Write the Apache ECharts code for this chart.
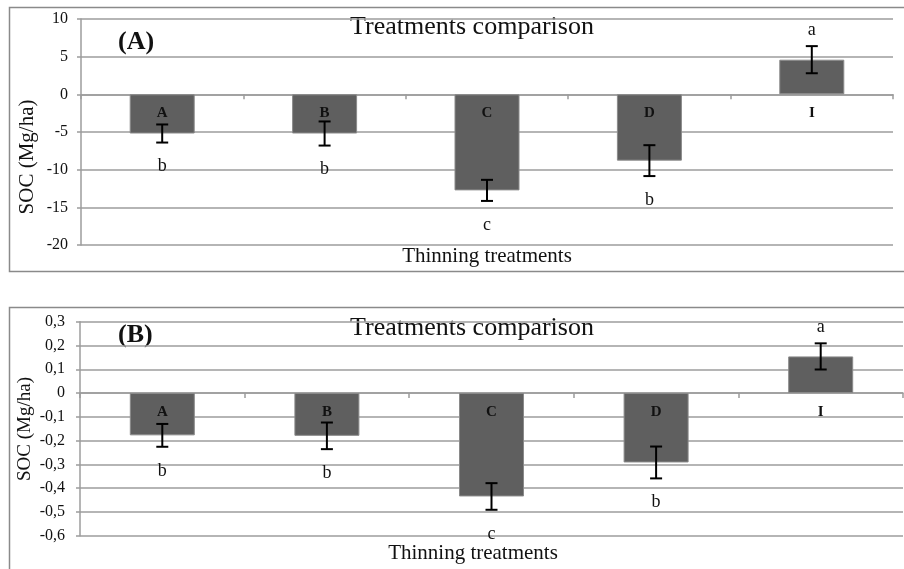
<!DOCTYPE html>
<html>
<head>
<meta charset="utf-8">
<script src="https://cdn.jsdelivr.net/npm/echarts@6/dist/echarts.min.js"></script>
<style>
  html, body { margin: 0; padding: 0; background: #ffffff; }
  #chart { width: 904px; height: 569px; }
</style>
</head>
<body>
<div id="chart"></div>
<script>
// Thinning treatments
const categories = ['A', 'B', 'C', 'D', 'I'];

// Panel (A): SOC change, Mg/ha
const socStock = [-5.2, -5.2, -12.75, -8.8, 4.6];
const socStockErr = [1.2, 1.6, 1.4, 2.05, 1.8];
const socStockGroups = ['b', 'b', 'c', 'b', 'a'];

// Panel (B): SOC change rate, Mg/ha
const socRate = [-0.178, -0.18, -0.435, -0.292, 0.154];
const socRateErr = [0.048, 0.056, 0.056, 0.067, 0.055];
const socRateGroups = ['b', 'b', 'c', 'b', 'a'];

const SERIF = '"Liberation Serif", "Times New Roman", serif';
const GRID_COLOR = '#9c9c9c';
const groups = [socStockGroups, socRateGroups];

function commaLabel(v) {
  if (Math.abs(v) < 1e-9) return '0';
  return v.toFixed(1).replace('.', ',');
}

function buildErrorData(vals, errs) {
  return vals.map((v, i) => [i, v, errs[i]]);
}

// Error bar with caps, the significance letter beyond the bar tip,
// and the treatment name just under the zero line
function renderErrorBar(params, api) {
  const idx = api.value(0);
  const v = api.value(1);
  const e = api.value(2);
  const letter = groups[params.seriesIndex === 1 ? 0 : 1][params.dataIndex];
  const hi = api.coord([idx, v + e]);
  const lo = api.coord([idx, v - e]);
  const zero = api.coord([idx, 0]);
  const cap = 6;
  const stroke = { stroke: '#000', lineWidth: 2 };
  const tip = v >= 0 ? hi : lo;
  const textY = v >= 0 ? tip[1] - 16 : tip[1] + 24;
  return {
    type: 'group',
    children: [
      { type: 'line', shape: { x1: hi[0], y1: hi[1], x2: lo[0], y2: lo[1] }, style: stroke },
      { type: 'line', shape: { x1: hi[0] - cap, y1: hi[1], x2: hi[0] + cap, y2: hi[1] }, style: stroke },
      { type: 'line', shape: { x1: lo[0] - cap, y1: lo[1], x2: lo[0] + cap, y2: lo[1] }, style: stroke },
      {
        type: 'text',
        style: {
          x: hi[0], y: textY, text: letter,
          font: '18px ' + SERIF, fill: '#111',
          textAlign: 'center', textVerticalAlign: 'middle'
        }
      },
      {
        type: 'text',
        style: {
          x: zero[0], y: zero[1] + 19, text: categories[params.dataIndex],
          font: 'bold 15px ' + SERIF, fill: '#111',
          textAlign: 'center', textVerticalAlign: 'middle'
        }
      }
    ]
  };
}

function xAxisFor(gridIndex) {
  return {
    type: 'category',
    gridIndex: gridIndex,
    data: categories,
    axisLine: { onZero: true, lineStyle: { color: GRID_COLOR, width: 1.5 } },
    axisTick: { show: true, length: 5, lineStyle: { color: GRID_COLOR, width: 1.5 } },
    axisLabel: { show: false },
    splitLine: { show: false }
  };
}

function yAxisFor(gridIndex, min, max, interval, fmt, margin) {
  return {
    type: 'value',
    gridIndex: gridIndex,
    min: min, max: max, interval: interval,
    axisLine: { show: true, lineStyle: { color: GRID_COLOR, width: 1.5 } },
    axisTick: { show: true, length: 4, lineStyle: { color: GRID_COLOR, width: 1.5 } },
    axisLabel: { formatter: fmt, fontFamily: SERIF, fontSize: 16, color: '#111', margin: margin },
    splitLine: { show: true, lineStyle: { color: GRID_COLOR, width: 1.5 } }
  };
}

const barStyle = { color: '#5f5f5f', borderColor: '#8a8a8a', borderWidth: 1 };

const option = {
  animation: false,
  backgroundColor: '#ffffff',
  grid: [
    { left: 81, right: 11, top: 19, height: 226 },
    { left: 80, right: 1, top: 321.7, height: 214 }
  ],
  xAxis: [xAxisFor(0), xAxisFor(1)],
  yAxis: [
    yAxisFor(0, -20, 10, 5, v => String(v), 13),
    yAxisFor(1, -0.6, 0.3, 0.1, commaLabel, 15)
  ],
  graphic: [
    { type: 'rect', z: -10, shape: { x: 9.5, y: 7.5, width: 910, height: 264 },
      style: { fill: 'none', stroke: '#8a8a8a', lineWidth: 1.5 } },
    { type: 'rect', z: -10, shape: { x: 9.5, y: 307.5, width: 910, height: 300 },
      style: { fill: 'none', stroke: '#8a8a8a', lineWidth: 1.5 } },
    { type: 'text', x: 472, y: 27, style: { text: 'Treatments comparison', font: '26px ' + SERIF, fill: '#111', textAlign: 'center', textVerticalAlign: 'middle' } },
    { type: 'text', x: 472, y: 328, style: { text: 'Treatments comparison', font: '26px ' + SERIF, fill: '#111', textAlign: 'center', textVerticalAlign: 'middle' } },
    { type: 'text', x: 118, y: 42, style: { text: '(A)', font: 'bold 26px ' + SERIF, fill: '#111', textAlign: 'left', textVerticalAlign: 'middle' } },
    { type: 'text', x: 118, y: 335, style: { text: '(B)', font: 'bold 26px ' + SERIF, fill: '#111', textAlign: 'left', textVerticalAlign: 'middle' } },
    { type: 'text', x: 487, y: 256, style: { text: 'Thinning treatments', font: '21px ' + SERIF, fill: '#111', textAlign: 'center', textVerticalAlign: 'middle' } },
    { type: 'text', x: 473, y: 553, style: { text: 'Thinning treatments', font: '21px ' + SERIF, fill: '#111', textAlign: 'center', textVerticalAlign: 'middle' } },
    { type: 'text', x: 27.5, y: 157, rotation: Math.PI / 2, style: { text: 'SOC (Mg/ha)', font: '21px ' + SERIF, fill: '#111', textAlign: 'center', textVerticalAlign: 'middle' } },
    { type: 'text', x: 25, y: 429, rotation: Math.PI / 2, style: { text: 'SOC (Mg/ha)', font: '19px ' + SERIF, fill: '#111', textAlign: 'center', textVerticalAlign: 'middle' } }
  ],
  series: [
    { type: 'bar', xAxisIndex: 0, yAxisIndex: 0, data: socStock, barWidth: 65, itemStyle: barStyle, z: 2 },
    { type: 'custom', xAxisIndex: 0, yAxisIndex: 0, data: buildErrorData(socStock, socStockErr), renderItem: renderErrorBar, z: 20 },
    { type: 'bar', xAxisIndex: 1, yAxisIndex: 1, data: socRate, barWidth: 65, itemStyle: barStyle, z: 2 },
    { type: 'custom', xAxisIndex: 1, yAxisIndex: 1, data: buildErrorData(socRate, socRateErr), renderItem: renderErrorBar, z: 20 }
  ]
};

const chart = echarts.init(document.getElementById('chart'), null, { renderer: 'canvas' });
chart.setOption(option);
</script>
</body>
</html>
